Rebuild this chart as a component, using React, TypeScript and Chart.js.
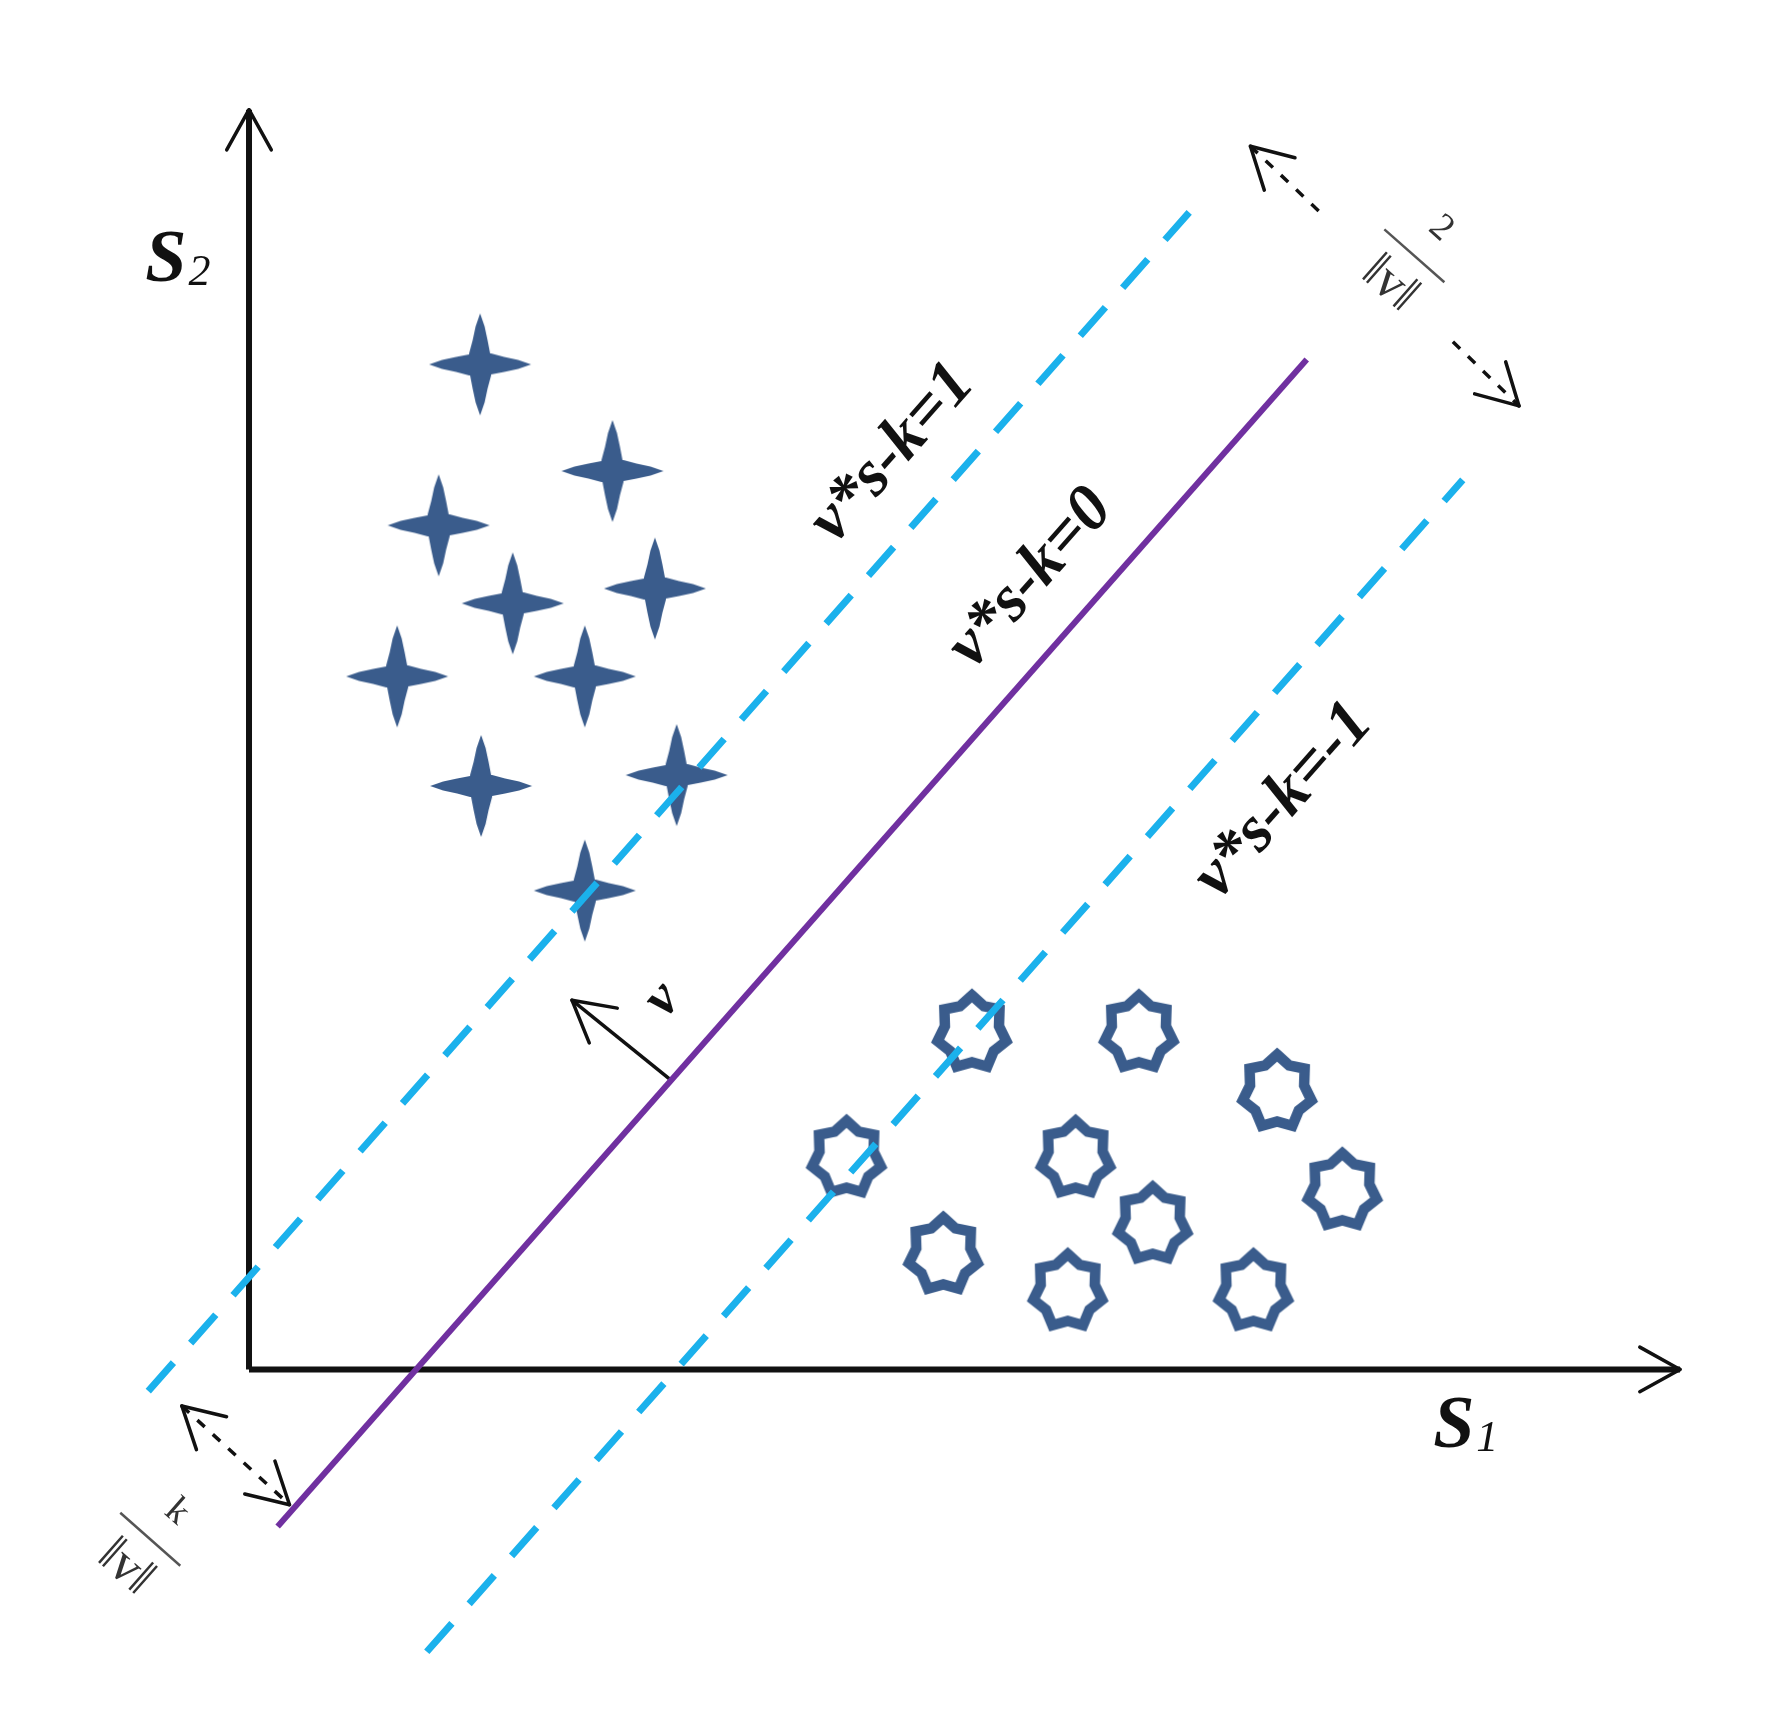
import React, { useEffect, useRef } from 'react';
import { Chart, registerables } from 'chart.js';

Chart.register(...registerables);

const CANVAS_W = 1773;
const CANVAS_H = 1723;

// Data space (feature space S1, S2)
const xExtent = [-2.41, 15.32];
const yExtent = [-3.47, 13.76];

// Class +1 (four-point stars)
const positiveClass = [
  { x: 2.34, y: 10.18 },
  { x: 3.68, y: 9.1 },
  { x: 1.92, y: 8.55 },
  { x: 2.67, y: 7.76 },
  { x: 4.11, y: 7.91 },
  { x: 1.5, y: 7.02 },
  { x: 3.4, y: 7.02 },
  { x: 2.35, y: 5.91 },
  { x: 4.33, y: 6.02 },
  { x: 3.4, y: 4.85 },
];

// Class -1 (seven-point star rings)
const negativeClass = [
  { x: 7.32, y: 3.43 },
  { x: 9.01, y: 3.43 },
  { x: 10.41, y: 2.83 },
  { x: 6.05, y: 2.16 },
  { x: 8.37, y: 2.16 },
  { x: 11.07, y: 1.83 },
  { x: 9.15, y: 1.49 },
  { x: 7.03, y: 1.18 },
  { x: 8.29, y: 0.81 },
  { x: 10.17, y: 0.81 },
];

// Hyperplanes
const hyperplane0 = [{ x: 0.29, y: -1.59 }, { x: 10.71, y: 10.23 }];
const hyperplanePlus = [{ x: -1.02, y: -0.22 }, { x: 9.52, y: 11.72 }];
const hyperplaneMinus = [{ x: 1.8, y: -2.86 }, { x: 12.29, y: 9.01 }];

// Axes
const axisS2 = [{ x: 0, y: 0 }, { x: 0, y: 12.76 }];
const axisS1 = [{ x: 0, y: 0 }, { x: 14.49, y: 0 }];

// Arrows
const normalVector = [{ x: 4.26, y: 2.94 }, { x: 3.27, y: 3.74 }];
const marginArrowUpper = [{ x: 10.14, y: 12.39 }, { x: 10.91, y: 11.66 }];
const marginArrowLower = [{ x: 12.19, y: 10.41 }, { x: 12.86, y: 9.76 }];
const offsetArrow = [{ x: -0.68, y: -0.37 }, { x: 0.41, y: -1.37 }];

const arrowHeads = [
  { tip: axisS2[1], from: axisS2[0] },
  { tip: axisS1[1], from: axisS1[0] },
  { tip: normalVector[1], from: normalVector[0] },
  { tip: marginArrowUpper[0], from: marginArrowUpper[1] },
  { tip: marginArrowLower[1], from: marginArrowLower[0] },
  { tip: offsetArrow[0], from: offsetArrow[1] },
  { tip: offsetArrow[1], from: offsetArrow[0] },
];

// Text labels
const hyperplaneLabels = [
  { text: 'v*s-k=1', at: { x: 6.52, y: 9.28 } },
  { text: 'v*s-k=0', at: { x: 7.92, y: 8.01 } },
  { text: 'v*s-k=-1', at: { x: 10.48, y: 5.76 } },
];
const vectorLabel = { text: 'v', at: { x: 4.19, y: 3.74 } };
const axisLabels = [
  { main: 'S', sub: '2', at: { x: -1.05, y: 11.03 } },
  { main: 'S', sub: '1', at: { x: 11.99, y: -0.79 } },
];
const fractionLabels = [
  { num: '2', den: '‖v‖', at: { x: 11.8, y: 11.28 } },
  { num: 'k', den: '‖v‖', at: { x: -1.0, y: -1.72 } },
];

const MARKER = '#3A5C8C';
const CYAN = '#1BB1EC';
const PURPLE = '#7030A0';
const INK = '#111111';

function makeStar(color: string) {
  const c = document.createElement('canvas');
  c.width = 108;
  c.height = 108;
  const g = c.getContext('2d')!;
  const cx = c.width / 2, cy = c.height / 2;
  // one quadrant profile from the top tip to the right tip
  const q = [
    [0, -51], [4.5, -38], [7.5, -24], [10, -11], [11, -11], [24, -7.5], [38, -4.5], [51, 0],
  ];
  g.fillStyle = color;
  g.beginPath();
  for (let k = 0; k < 4; k++) {
    const a = (k * Math.PI) / 2;
    const ca = Math.cos(a), sa = Math.sin(a);
    for (let i = 0; i < q.length - 1; i++) {
      const [x, y] = q[i];
      const rx = x * ca - y * sa, ry = x * sa + y * ca;
      if (k === 0 && i === 0) g.moveTo(cx + rx, cy + ry);
      else g.lineTo(cx + rx, cy + ry);
    }
  }
  g.closePath();
  g.fill();
  return c;
}

function makeRing(color: string) {
  const R = 37.5, rIn = 29.5, sx = 0.94, lw = 10.5;
  const c = document.createElement('canvas');
  c.width = 96;
  c.height = 98;
  const g = c.getContext('2d')!;
  const cx = c.width / 2, cy = c.height / 2 + 2;
  g.strokeStyle = color;
  g.lineWidth = lw;
  g.lineJoin = 'miter';
  g.beginPath();
  for (let i = 0; i < 14; i++) {
    const a = -Math.PI / 2 + (i * Math.PI) / 7;
    const r = i % 2 === 0 ? R : rIn;
    const x = cx + r * Math.cos(a) * sx;
    const y = cy + r * Math.sin(a);
    if (i === 0) g.moveTo(x, y);
    else g.lineTo(x, y);
  }
  g.closePath();
  g.stroke();
  return c;
}

const decorPlugin = {
  id: 'svmDecor',
  afterDatasetsDraw(chart: any) {
    const ctx = chart.ctx as CanvasRenderingContext2D;
    const xs = chart.scales.x, ys = chart.scales.y;
    const px = (p: { x: number; y: number }) => [xs.getPixelForValue(p.x), ys.getPixelForValue(p.y)];

    // arrowheads
    ctx.save();
    ctx.strokeStyle = INK;
    ctx.lineWidth = 3.5;
    ctx.lineCap = 'round';
    const L = 46, spread = (29 * Math.PI) / 180;
    for (const h of arrowHeads) {
      const [tx, ty] = px(h.tip);
      const [fx, fy] = px(h.from);
      const a = Math.atan2(fy - ty, fx - tx);
      for (const s of [-1, 1]) {
        ctx.beginPath();
        ctx.moveTo(tx, ty);
        ctx.lineTo(tx + L * Math.cos(a + s * spread), ty + L * Math.sin(a + s * spread));
        ctx.stroke();
      }
    }
    ctx.restore();

    // angle of hyperplane in pixel space
    const [p0x, p0y] = px(hyperplane0[0]);
    const [p1x, p1y] = px(hyperplane0[1]);
    const lineAngle = Math.atan2(p1y - p0y, p1x - p0x);

    ctx.save();
    ctx.fillStyle = INK;
    ctx.textAlign = 'center';
    ctx.textBaseline = 'middle';
    ctx.font = "bold italic 66px 'Liberation Serif'";
    for (const l of hyperplaneLabels) {
      const [x, y] = px(l.at);
      ctx.save();
      ctx.translate(x, y);
      ctx.rotate(lineAngle);
      ctx.fillText(l.text, 0, 0);
      ctx.restore();
    }
    {
      const [x, y] = px(vectorLabel.at);
      ctx.save();
      ctx.translate(x, y);
      ctx.rotate(lineAngle);
      ctx.font = "bold italic 56px 'Liberation Serif'";
      ctx.fillText(vectorLabel.text, 0, 0);
      ctx.restore();
    }
    ctx.restore();

    // axis labels
    ctx.save();
    ctx.fillStyle = INK;
    ctx.textAlign = 'left';
    ctx.textBaseline = 'alphabetic';
    for (const a of axisLabels) {
      const [x, y] = px(a.at);
      ctx.font = "bold italic 74px 'Liberation Serif'";
      ctx.fillText(a.main, x, y);
      const w = ctx.measureText(a.main).width;
      ctx.font = "italic 44px 'Liberation Serif'";
      ctx.fillText(a.sub, x + w + 2, y + 4);
    }
    ctx.restore();

    // fraction labels (rotated perpendicular to hyperplanes)
    ctx.save();
    ctx.fillStyle = '#333333';
    ctx.strokeStyle = '#555555';
    ctx.textAlign = 'center';
    ctx.textBaseline = 'middle';
    for (const f of fractionLabels) {
      const [x, y] = px(f.at);
      ctx.save();
      ctx.translate(x, y);
      ctx.rotate(lineAngle + Math.PI / 2);
      ctx.lineWidth = 2.5;
      ctx.beginPath();
      ctx.moveTo(-40, 0);
      ctx.lineTo(40, 0);
      ctx.stroke();
      ctx.font = "38px 'Liberation Serif'";
      ctx.fillText(f.num, 2, -38);
      ctx.font = "52px 'Liberation Serif'";
      ctx.fillText(f.den, 0, 38);
      ctx.restore();
    }
    ctx.restore();
  },
};

export default function App() {
  const ref = useRef<HTMLCanvasElement | null>(null);

  useEffect(() => {
    document.body.style.margin = '0';
    const canvas = ref.current;
    if (!canvas) return;
    const starImg = makeStar(MARKER);
    const ringImg = makeRing(MARKER);

    const lineDs = (label: string, data: any[], color: string, width: number, dash: number[] = []) => ({
      label,
      data,
      showLine: true,
      borderColor: color,
      borderWidth: width,
      borderDash: dash,
      borderCapStyle: 'butt',
      pointRadius: 0,
      fill: false,
    });

    const chart = new Chart(canvas, {
      type: 'scatter',
      data: {
        datasets: [
          lineDs('v*s-k=1', hyperplanePlus, CYAN, 7, [38, 26]),
          lineDs('v*s-k=-1', hyperplaneMinus, CYAN, 7, [38, 26]),
          lineDs('v*s-k=0', hyperplane0, PURPLE, 6),
          lineDs('S2 axis', axisS2, INK, 6),
          lineDs('S1 axis', axisS1, INK, 6),
          lineDs('v', normalVector, INK, 3.5),
          lineDs('2/||v|| a', marginArrowUpper, INK, 3.5, [10, 11]),
          lineDs('2/||v|| b', marginArrowLower, INK, 3.5, [10, 11]),
          lineDs('k/||v||', offsetArrow, INK, 3.5, [10, 11]),
          {
            label: 'class +1',
            data: positiveClass,
            pointStyle: starImg as any,
            pointRadius: 10,
            showLine: false,
          },
          {
            label: 'class -1',
            data: negativeClass,
            pointStyle: ringImg as any,
            pointRadius: 10,
            showLine: false,
          },
        ] as any,
      },
      options: {
        animation: false,
        responsive: false,
        maintainAspectRatio: false,
        layout: { padding: 0 },
        plugins: { legend: { display: false }, tooltip: { enabled: false } },
        events: [],
        scales: {
          x: { type: 'linear', min: xExtent[0], max: xExtent[1], display: false },
          y: { type: 'linear', min: yExtent[0], max: yExtent[1], display: false },
        },
      } as any,
      plugins: [decorPlugin],
    });
    return () => chart.destroy();
  }, []);

  return (
    <div style={{ width: CANVAS_W, height: CANVAS_H, background: '#ffffff' }}>
      <canvas ref={ref} width={CANVAS_W} height={CANVAS_H} style={{ display: 'block' }} />
    </div>
  );
}
